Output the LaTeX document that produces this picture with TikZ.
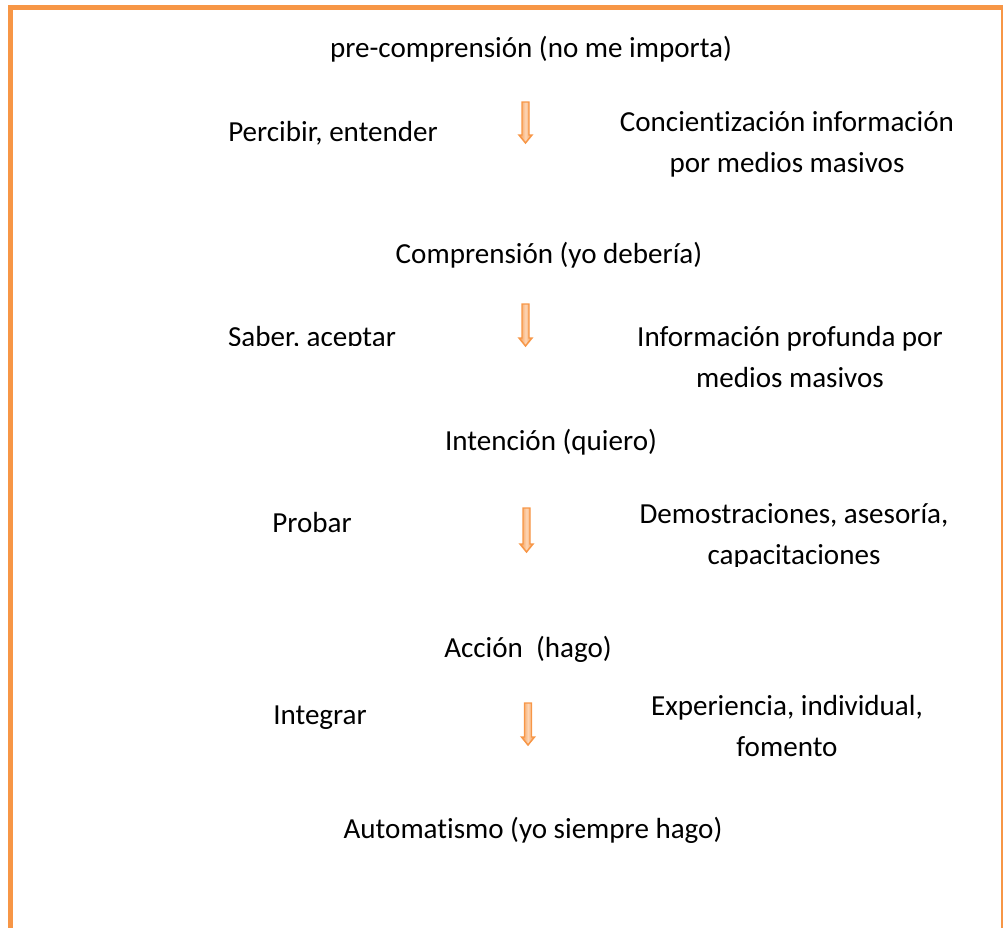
\documentclass[tikz,border=0pt]{standalone}
\usepackage{fontspec}
\setmainfont{Carlito}[Ligatures=NoCommon]
\definecolor{accent}{HTML}{F79646}
\definecolor{accentlight}{HTML}{FCD5B5}

\tikzset{
  frame/.style={line width=3.75pt, draw=accent},
  level/.style={anchor=base, font=\fontsize{21.8}{31}\selectfont},
  side/.style={anchor=base, align=center, font=\fontsize{21.8}{30.75}\selectfont},
  blockarrow/.style={draw=accent, line width=1.1pt, left color=accent, right color=accent,
    middle color=accentlight, line join=miter},
}

\begin{document}
\begin{tikzpicture}[x=0.75pt, y=-0.75pt]
    \useasboundingbox (0,0) rectangle (1003,928);
    \draw [frame] (10.5,935) |- (1003,7.5) -- (1003,935);

    % levels
    \node [level] (pre)  at (531,57)  {pre-comprensión (no me importa)};
    \node [level] (comp) at (549,263) {Comprensión (yo debería)};
    \node [level] (int)  at (551,450) {Intención (quiero)};
    \node [level] (acc)  at (528,657) {Acción~ (hago)};
    \node [level] (aut)  at (533,838) {Automatismo (yo siempre hago)};

    % left column
    \node [level] (perc) at (333,141) {Percibir, entender};
    \begin{scope}
        \clip (150,300) rectangle (480,345);
        \node [level] (sab) at (312,346) {Saber, aceptar};
    \end{scope}
    \node [level] (prob) at (312,532) {Probar};
    \node [level] (integ) at (320,724) {Integrar};

    % right column (base = last line)
    \node [side] (conc) at (787,172) {Concientización información\\por medios masivos};
    \node [side] (info) at (790,387) {Información profunda por\\medios masivos};
    \begin{scope}
        \clip (600,480) rectangle (1000,566);
        \node [side] (demo) at (794,564) {Demostraciones, asesoría,\\capacitaciones};
    \end{scope}
    \node [side] (exp) at (787,756) {Experiencia, individual,\\fomento};

    % arrows
    \foreach \x/\ya/\yb in {525.5/102/143, 525.5/304/346, 526.5/508/552, 528/703/745}
        \draw [blockarrow] (\x-3.5,\ya) -- (\x+3.5,\ya) -- (\x+3.5,\yb-8) -- (\x+6.5,\yb-8)
            -- (\x,\yb) -- (\x-6.5,\yb-8) -- (\x-3.5,\yb-8) -- cycle;
\end{tikzpicture}
\end{document}
